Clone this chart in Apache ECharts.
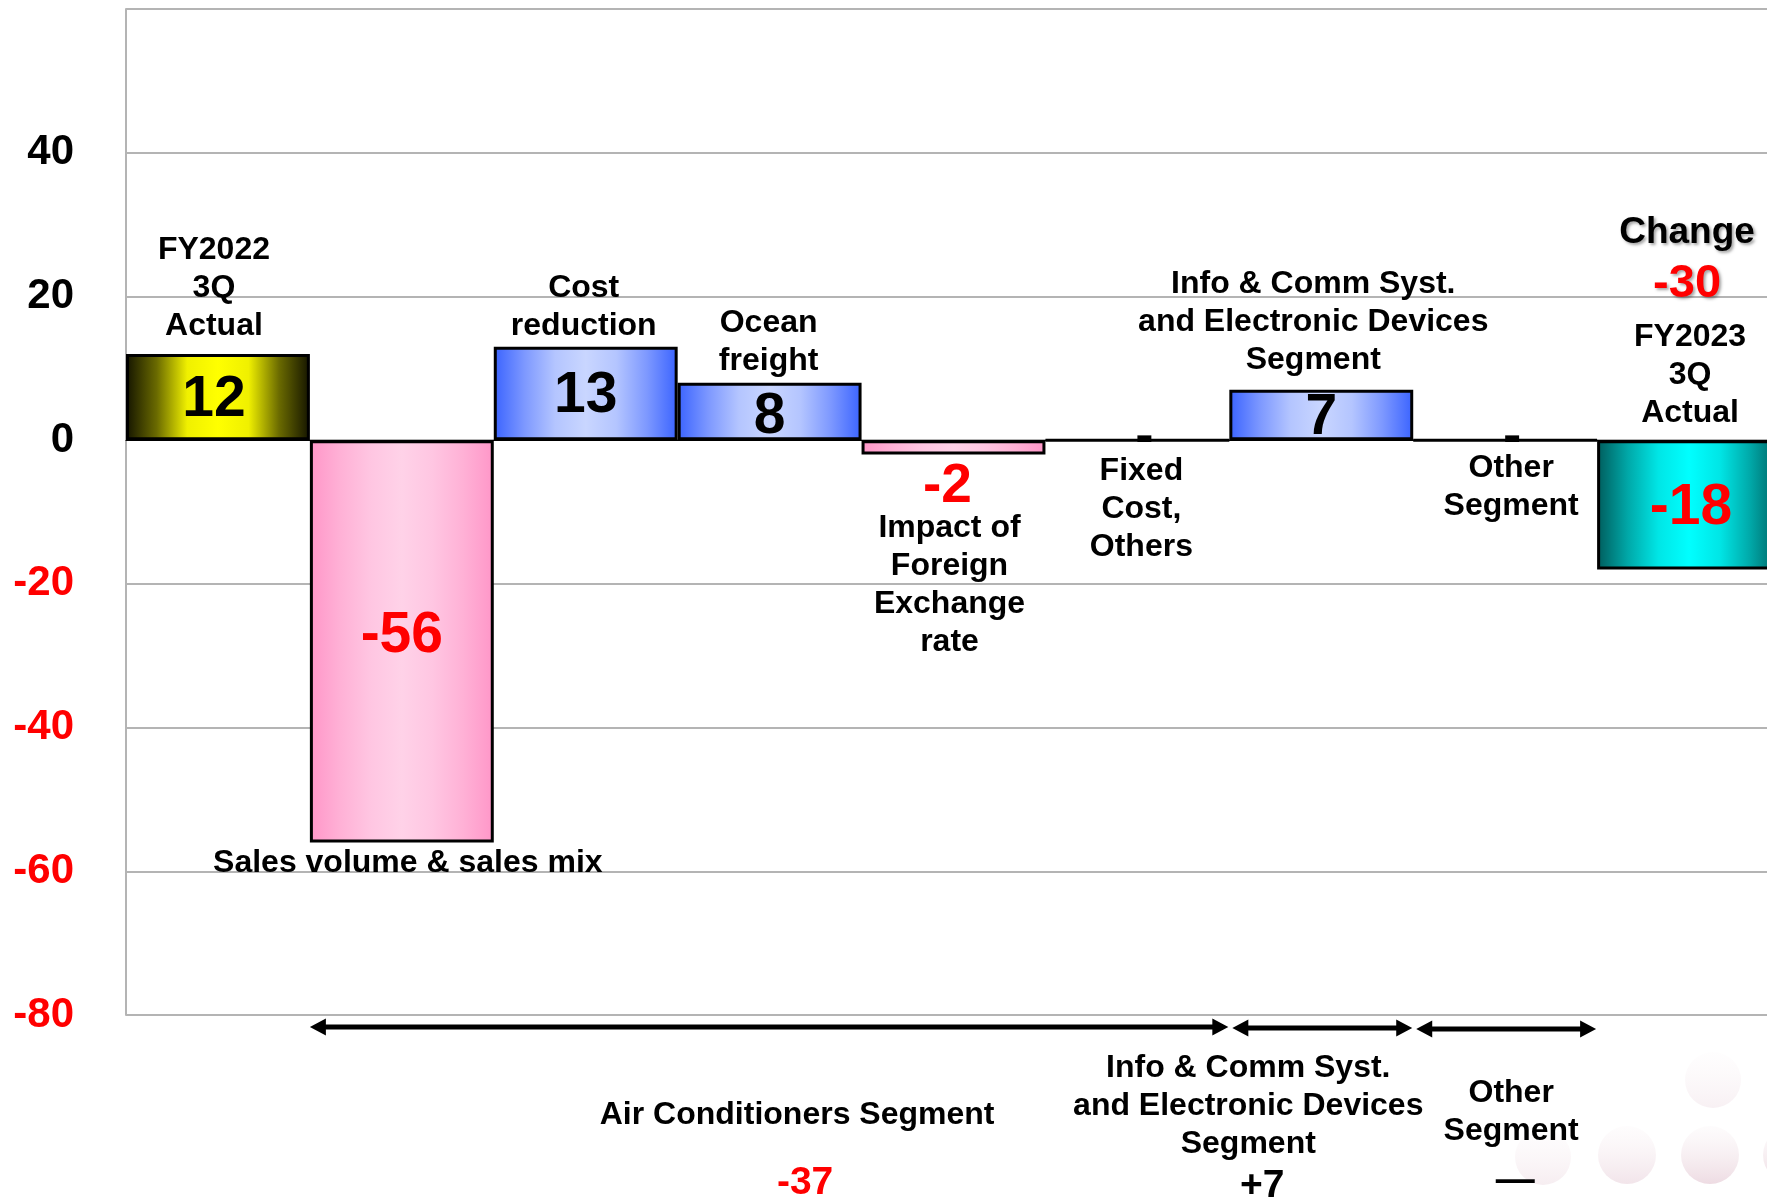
<!DOCTYPE html>
<html>
<head>
<meta charset="utf-8">
<title>Operating income change FY2022 3Q to FY2023 3Q</title>
<script src="https://cdn.jsdelivr.net/npm/echarts@6/dist/echarts.min.js"></script>
<style>
  html, body { margin: 0; padding: 0; background: #ffffff; overflow: hidden; }
  /* the plot runs a little past the right edge of the window, so the canvas is wider */
  #chart { width: 1800px; height: 1197px; }
</style>
</head>
<body>
<div id="chart"></div>
<script>
// ---- data ----
const categories = [
  'FY2022\n3Q\nActual',
  'Sales volume & sales mix',
  'Cost\nreduction',
  'Ocean\nfreight',
  'Impact of\nForeign\nExchange\nrate',
  'Fixed\nCost,\nOthers',
  'Info & Comm Syst.\nand Electronic Devices\nSegment',
  'Other\nSegment',
  'FY2023\n3Q\nActual'
];
const values = [12, -56, 13, 8, -2, 0, 7, 0, -18];
const barKinds = ['start', 'down', 'up', 'up', 'down', 'up', 'up', 'up', 'end'];
const changeTitle = 'Change';
const changeValue = -30;

const segmentNames = ['Air Conditioners Segment', 'Info & Comm Syst.\nand Electronic Devices\nSegment', 'Other\nSegment'];
const segmentFirstCat = [1, 6, 7];
const segmentLastCat = [5, 6, 7];
const segmentTotals = ['-37', '+7', '\u2014'];

const yMin = -80, yMax = 60, yStep = 20;

// ---- styles ----
const FONT = '"Liberation Sans", Arial, Helvetica, sans-serif';
const RED = '#ff0000';
const grad = (stops) => new echarts.graphic.LinearGradient(0, 0, 1, 0,
  stops.map((c, i) => ({ offset: i / (stops.length - 1), color: c })));
const fills = {
  start: ['#141400', '#6a6a00', '#f0f000', '#ffff00', '#f0f000', '#6a6a00', '#141400'],
  up:    ['#3a63ff', '#7d98ff', '#b4c5ff', '#c9d6ff', '#b4c5ff', '#7d98ff', '#3a63ff'],
  down:  ['#ff96c8', '#ffb1d6', '#ffc6e2', '#ffd2e8', '#ffc6e2', '#ffb1d6', '#ff96c8'],
  end:   ['#005c5c', '#00a8a8', '#00e6e6', '#00ffff', '#00e6e6', '#00a8a8', '#005c5c']
};

// nudges for the value labels inside / under the bars
const valueLabelOffset = [[-4, 3], [0, -5], [0, 3], [0, 6], [-6, 3], [7, -2], [0, 3], [7, -2], [2, 3]];

// label placement around the bars (side, gap in px, horizontal nudge)
const noteLayout = [
  { side: 'above', gap: 9, dx: -4 },
  { side: 'below', gap: 2, dx: 6 },
  { side: 'above', gap: 2, dx: -2 },
  { side: 'above', gap: 2, dx: -1 },
  { side: 'below', gap: 55, dx: -4 },
  { side: 'below', gap: 12, dx: 4 },
  { side: 'above', gap: 11, dx: -8 },
  { side: 'below', gap: 9, dx: 6 },
  { side: 'above', gap: 8, dx: 1 }
];
// segment captions below the plot (offsets from arrow centre / bottom line)
const segmentLayout = [
  { dx: 28, nameTop: 81, totalDx: 36, totalY: 168 },
  { dx: -74, nameTop: 34, totalDx: -60, totalY: 171 },
  { dx: 5, nameTop: 59, totalDx: 9, totalY: 166 }
];

const barData = values.map((v, i) => {
  const item = {
    value: v,
    itemStyle: { color: grad(fills[barKinds[i]]) },
    label: {
      show: true,
      position: 'inside',
      offset: valueLabelOffset[i],
      formatter: v === 0 ? '-' : String(v),
      color: v < 0 ? RED : '#000000',
      fontSize: v === 0 ? 55 : 57,
      fontWeight: 'bold',
      fontFamily: FONT
    }
  };
  if (barKinds[i] === 'down' && v > -5) {
    item.label.position = 'bottom';
    item.label.distance = 2;
    item.label.fontSize = 55;
  }
  return item;
});

const option = {
  animation: false,
  backgroundColor: '#ffffff',
  grid: { left: 126, top: 9, width: 1655, height: 1006, containLabel: false },
  xAxis: {
    type: 'category',
    data: categories,
    boundaryGap: true,
    axisLine: { show: true, onZero: true, lineStyle: { color: '#000000', width: 1.2 } },
    axisTick: { show: false },
    axisLabel: { show: false },
    splitLine: { show: false }
  },
  yAxis: {
    type: 'value',
    min: yMin, max: yMax, interval: yStep,
    axisLine: { show: true, lineStyle: { color: '#b4b4b4', width: 2 } },
    axisTick: { show: false },
    splitLine: { show: true, lineStyle: { color: '#b4b4b4', width: 2 } },
    axisLabel: {
      margin: 52,
      fontSize: 42,
      fontWeight: 'bold',
      fontFamily: FONT,
      formatter: (v) => (v >= yMax ? '' : String(v)),
      color: (v) => (Number(v) < 0 ? RED : '#000000')
    }
  },
  series: [{
    type: 'bar',
    data: barData,
    barCategoryGap: '0%',
    itemStyle: { borderColor: '#000000', borderWidth: 3 },
    z: 3
  }]
};

const chart = echarts.init(document.getElementById('chart'), null, { renderer: 'canvas' });
chart.setOption(option);

// ---- annotations built from the axis scales ----
const px = (i, v) => chart.convertToPixel({ xAxisIndex: 0, yAxisIndex: 0 }, [i, v]);
const half = (px(1, 0)[0] - px(0, 0)[0]) / 2;
const LH = 38;
const graphics = [];

const textEl = (text, x, y, opts) => ({
  type: 'text',
  z: 10,
  style: Object.assign({
    text: text, x: x, y: y,
    fill: '#000000',
    fontSize: 32, fontWeight: 'bold', fontFamily: FONT,
    align: 'center', verticalAlign: 'middle', lineHeight: LH
  }, opts || {})
});

categories.forEach((name, i) => {
  const L = noteLayout[i];
  const v = values[i];
  const [cx] = px(i, 0);
  if (L.side === 'above') {
    const y = px(i, Math.max(v, 0))[1] - L.gap;
    graphics.push(textEl(name, cx + L.dx, y, { verticalAlign: 'bottom' }));
  } else {
    const y = px(i, Math.min(v, 0))[1] + L.gap;
    graphics.push(textEl(name, cx + L.dx, y, { verticalAlign: 'top' }));
  }
});

// overall change above the final bar
const lastIdx = values.length - 1;
const [lx, ly] = px(lastIdx, 0);
const shadow = { textShadowColor: 'rgba(0,0,0,0.35)', textShadowBlur: 3, textShadowOffsetX: 2, textShadowOffsetY: 2 };
graphics.push(textEl(changeTitle, lx - 2, ly - 207, Object.assign({ fontSize: 37 }, shadow)));
graphics.push(textEl(String(changeValue), lx - 2, ly - 156, Object.assign({ fontSize: 47, fill: RED }, shadow)));

// segment arrows and captions under the plot
const baseY = px(0, yMin)[1];
const arrowY = baseY + 12;
const arrowPoly = (x1, x2, y) => {
  const t = 2.5, hl = 16, hh = 8.5;
  return [
    [x1, y], [x1 + hl, y - hh], [x1 + hl, y - t], [x2 - hl, y - t], [x2 - hl, y - hh],
    [x2, y], [x2 - hl, y + hh], [x2 - hl, y + t], [x1 + hl, y + t], [x1 + hl, y + hh]
  ];
};
segmentNames.forEach((name, k) => {
  const x1 = px(segmentFirstCat[k], 0)[0] - half + (k === 0 ? 0 : 3);
  const x2 = px(segmentLastCat[k], 0)[0] + half - 1;
  graphics.push({
    type: 'polygon', z: 10,
    shape: { points: arrowPoly(x1, x2, arrowY + k) },
    style: { fill: '#000000' }
  });
  const mid = (x1 + x2) / 2;
  const S = segmentLayout[k];
  graphics.push(textEl(name, mid + S.dx, baseY + S.nameTop, { verticalAlign: 'top' }));
  const isNeg = segmentTotals[k].charAt(0) === '-';
  graphics.push(textEl(segmentTotals[k], mid + S.totalDx, baseY + S.totalY, {
    fontSize: 39, fill: isNeg ? RED : '#000000'
  }));
});

// faint decorative bubbles in the lower right corner
[[1713, 1080, 28, 0.25], [1543, 1157, 28, 0.3], [1627, 1155, 29, 0.45], [1710, 1155, 29, 0.6], [1792, 1155, 29, 0.6]]
  .forEach(([x, y, r, a]) => {
    graphics.push({
      type: 'circle', z: 1,
      shape: { cx: x, cy: y, r: r },
      style: {
        fill: new echarts.graphic.LinearGradient(0, 0, 0, 1, [
          { offset: 0, color: 'rgba(250,244,246,' + (a * 0.5) + ')' },
          { offset: 1, color: 'rgba(226,196,208,' + a + ')' }
        ])
      }
    });
  });

chart.setOption({ graphic: graphics });
</script>
</body>
</html>
